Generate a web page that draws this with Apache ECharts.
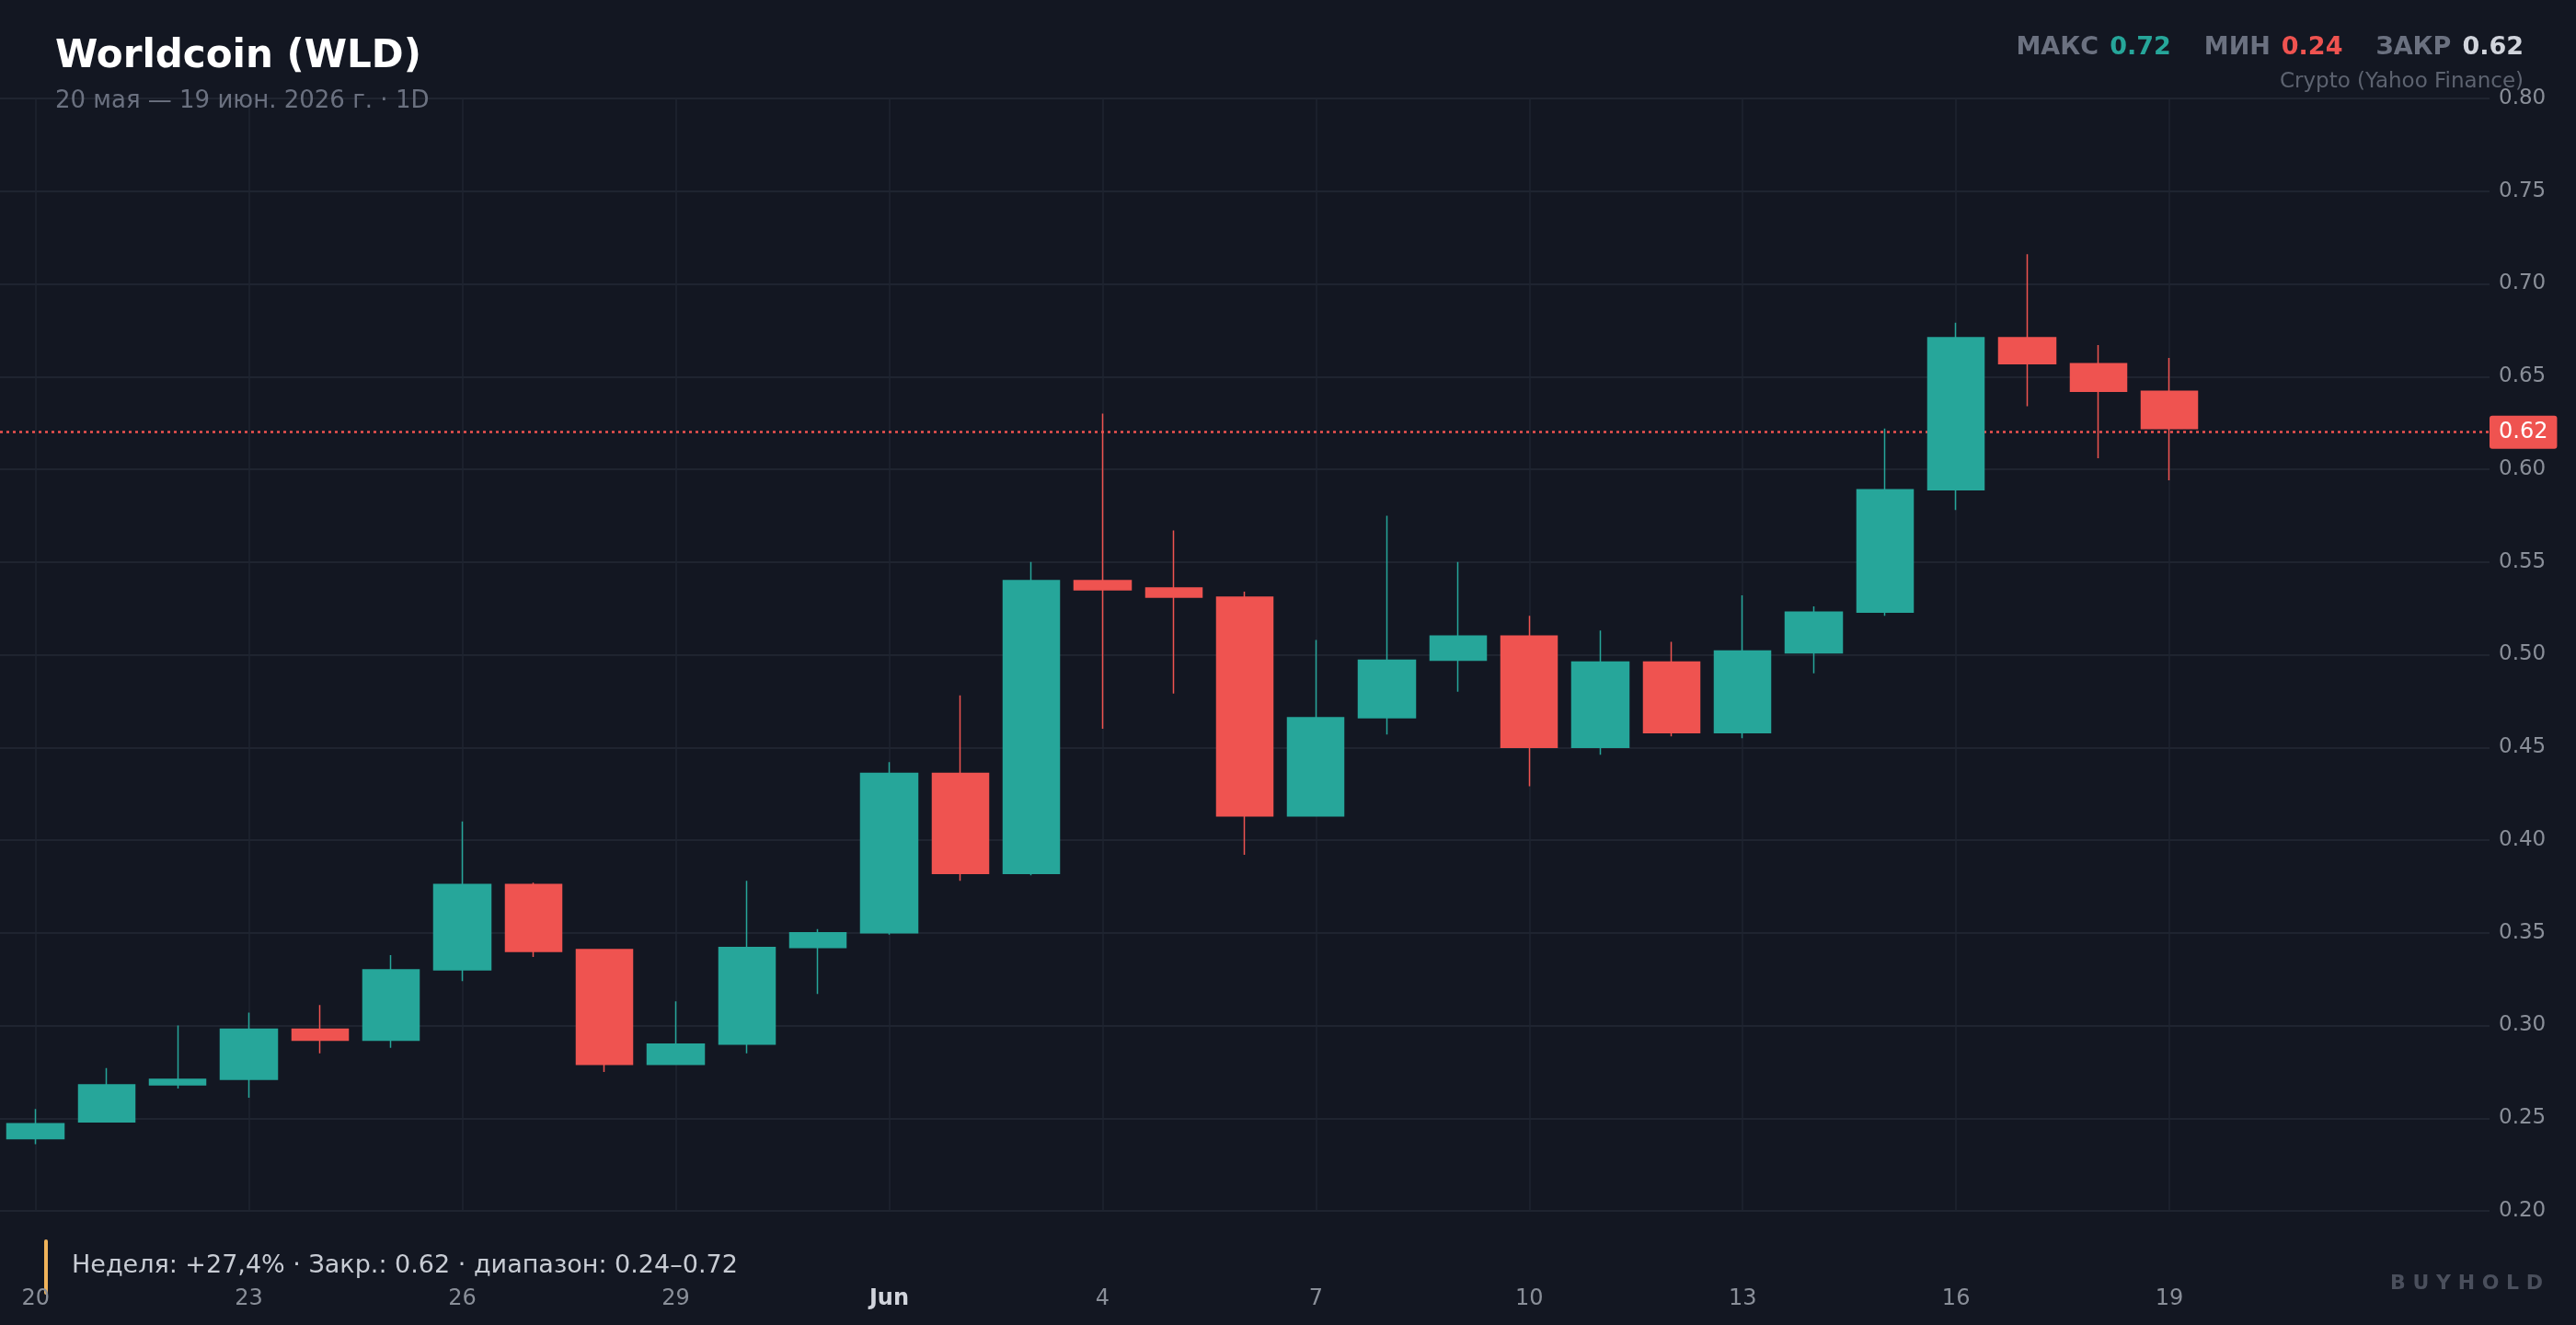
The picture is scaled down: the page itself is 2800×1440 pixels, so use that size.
<!DOCTYPE html>
<html>
<head>
<meta charset="utf-8">
<script src="https://cdn.jsdelivr.net/npm/echarts@6/dist/echarts.min.js"></script>
<style>
  html, body { margin: 0; padding: 0; background: #131722; }
  #chart { width: 2800px; height: 1440px; }
</style>
</head>
<body>
<div id="chart"></div>
<script>
'use strict';

// days shown on the x axis (4 empty slots at the end for right padding)
const arrDays = ['20', '21', '22', '23', '24', '25', '26', '27', '28', '29', '30', '31',
    'Jun', '2', '3', '4', '5', '6', '7', '8', '9', '10', '11', '12', '13', '14', '15', '16', '17', '18', '19',
    '', ' ', '  ', '   '];

// candles per day
const arrOpen  = [0.239, 0.248, 0.268, 0.271, 0.298, 0.292, 0.330, 0.376, 0.341, 0.279, 0.290, 0.342, 0.350, 0.436, 0.382, 0.540, 0.536, 0.531, 0.413, 0.466, 0.497, 0.510, 0.450, 0.496, 0.458, 0.501, 0.523, 0.589, 0.671, 0.657, 0.642];
const arrClose = [0.247, 0.268, 0.271, 0.298, 0.292, 0.330, 0.376, 0.340, 0.279, 0.290, 0.342, 0.350, 0.436, 0.382, 0.540, 0.535, 0.531, 0.413, 0.466, 0.497, 0.510, 0.450, 0.496, 0.458, 0.502, 0.523, 0.589, 0.671, 0.657, 0.642, 0.622];
const arrLow   = [0.236, 0.248, 0.266, 0.261, 0.285, 0.288, 0.324, 0.337, 0.275, 0.279, 0.285, 0.317, 0.349, 0.378, 0.381, 0.460, 0.479, 0.392, 0.413, 0.457, 0.480, 0.429, 0.446, 0.456, 0.455, 0.490, 0.521, 0.578, 0.634, 0.606, 0.594];
const arrHigh  = [0.255, 0.277, 0.300, 0.307, 0.311, 0.338, 0.410, 0.377, 0.341, 0.313, 0.378, 0.352, 0.442, 0.478, 0.550, 0.630, 0.567, 0.534, 0.508, 0.575, 0.550, 0.521, 0.513, 0.507, 0.532, 0.526, 0.622, 0.679, 0.716, 0.667, 0.660];

const lastClose = 0.62;
const shownLabels = ['20', '23', '26', '29', 'Jun', '4', '7', '10', '13', '16', '19'];

const UP = '#26a69a';
const DOWN = '#ef5350';
const GRID = '#1f2430';
const LABEL = '#8a8f99';
const FONT = '"DejaVu Sans", "Noto Sans", sans-serif';

const arrCandle = arrOpen.map((o, i) => [o, arrClose[i], arrLow[i], arrHigh[i]]);

const chart = echarts.init(document.getElementById('chart'));

const richHead = (fill, pad) => ({ fill: fill, fontSize: 27, fontWeight: 'bold', fontFamily: FONT, padding: pad });

const option = {
    backgroundColor: '#131722',
    animation: false,
    textStyle: { fontFamily: FONT },
    title: {
        text: 'Worldcoin (WLD)',
        subtext: '20 мая — 19 июн. 2026 г. · 1D',
        left: 55, top: 36,
        itemGap: 14,
        textStyle: { color: '#ffffff', fontSize: 42, fontWeight: 'bold', fontFamily: FONT },
        subtextStyle: { color: '#6b7180', fontSize: 26, fontFamily: FONT }
    },
    grid: { left: 0, right: 94, top: 107, bottom: 124 },
    xAxis: {
        type: 'category',
        data: arrDays,
        boundaryGap: true,
        axisLine: { show: false },
        axisTick: { show: false },
        axisLabel: {
            interval: 0,
            margin: 84,
            color: LABEL,
            fontSize: 24,
            formatter: (v) => shownLabels.includes(v) ? (v === 'Jun' ? '{b|Jun}' : v) : '',
            rich: { b: { color: '#d1d4dc', fontWeight: 'bold', fontSize: 24 } }
        },
        splitLine: { show: false }
    },
    yAxis: {
        type: 'value',
        position: 'right',
        min: 0.2,
        max: 0.8,
        interval: 0.05,
        axisLine: { show: false },
        axisTick: { show: false },
        axisLabel: {
            color: LABEL,
            fontSize: 23,
            margin: 10,
            formatter: (v) => v.toFixed(2)
        },
        splitLine: { lineStyle: { color: GRID, width: 2 } }
    },
    series: [{
        // vertical grid lines through the labelled days
        type: 'line',
        data: [],
        z: 0,
        markLine: {
            symbol: 'none',
            silent: true,
            z: 0,
            label: { show: false },
            lineStyle: { color: GRID, type: 'solid', width: 1.5 },
            data: shownLabels.map(d => ({ xAxis: d }))
        }
    }, {
        type: 'candlestick',
        data: arrCandle,
        barWidth: '80%',
        z: 5,
        itemStyle: {
            color: UP, color0: DOWN,
            borderColor: UP, borderColor0: DOWN,
            borderWidth: 1.5
        },
        markLine: {
            symbol: 'none',
            silent: true,
            data: [{ yAxis: lastClose }],
            lineStyle: { color: DOWN, type: [3, 4], width: 2.5, opacity: 1 },
            label: {
                position: 'end',
                formatter: '0.62',
                color: '#ffffff',
                backgroundColor: DOWN,
                fontSize: 24,
                padding: [6, 10],
                borderRadius: 3,
                distance: 0
            }
        }
    }],
    graphic: [{
        type: 'text',
        right: 57, top: 38,
        style: {
            text: '{k|МАКС}{up|0.72}{k|МИН}{dn|0.24}{k|ЗАКР}{w|0.62}',
            rich: {
                k: richHead('#6b7180', [0, 12, 0, 36]),
                up: richHead(UP, 0),
                dn: richHead(DOWN, 0),
                w: richHead('#d1d4dc', 0)
            }
        }
    }, {
        type: 'text',
        right: 57, top: 78,
        style: {
            text: 'Crypto (Yahoo Finance)',
            fill: '#5d6370',
            font: '23px ' + FONT
        }
    }, {
        type: 'rect',
        left: 48, top: 1347,
        shape: { width: 4, height: 60, r: 2 },
        style: { fill: '#f0b35a' }
    }, {
        type: 'text',
        left: 78, top: 1362,
        style: {
            text: 'Неделя: +27,4% · Закр.: 0.62 · диапазон: 0.24–0.72',
            fill: '#c8ccd4',
            font: '27px ' + FONT
        }
    }, {
        type: 'text',
        right: 36, top: 1384,
        style: {
            text: 'B U Y H O L D',
            fill: '#4a4f5c',
            font: 'bold 22px ' + FONT
        }
    }]
};

chart.setOption(option);
</script>
</body>
</html>
